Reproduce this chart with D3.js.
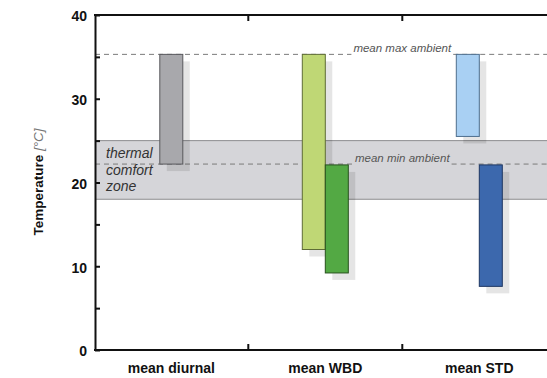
<!DOCTYPE html>
<html>
<head>
<meta charset="utf-8">
<script src="https://cdn.jsdelivr.net/npm/d3@7"></script>
<style>
  html, body { margin: 0; padding: 0; background: #fff; }
  svg { display: block; font-family: "Liberation Sans", Arial, Helvetica, sans-serif; }
</style>
</head>
<body>
<svg id="chart" width="547" height="378"></svg>
<script>
// ---- data ----
const categories = ["mean diurnal", "mean WBD", "mean STD"];
const seriesNames = ["first", "second"];
// first bar of each category (range low..high, °C)
const firstHigh = [35.3, 35.3, 35.3];
const firstLow  = [22.2, 12.0, 25.5];
// second bar of each category (null = no bar)
const secondHigh = [null, 22.1, 22.1];
const secondLow  = [null, 9.2, 7.6];
const firstFill    = ["#a8a8ac", "#bfd775", "#a9d0f3"];
const firstStroke  = ["#58585c", "#5e6c36", "#4e6f8e"];
const secondFill   = [null, "#53a944", "#3c68ad"];
const secondStroke = [null, "#27521d", "#1d3662"];
const yTicks = [0, 5, 10, 15, 20, 25, 30, 35, 40];
const yTickLabels = ["0", "", "10", "", "20", "", "30", "", "40"];
const comfortZone = [18, 25];
const comfortLabel = ["thermal", "comfort", "zone"];
const refValues = [35.3, 22.2];
const refLabels = ["mean max ambient", "mean min ambient"];

(function () {
// ---- layout ----
const W = 547, H = 378;
const mLeft = 95, mTop = 15, mBottom = 350, mRight = W;
const svg = d3.select("#chart");

const y = d3.scaleLinear().domain([0, 40]).range([mBottom, mTop]);
const x = d3.scaleBand().domain(categories).range([94.3, 94.3 + 154 * 3]).padding(0);
const barW = 23;

// comfort zone
svg.append("rect")
  .attr("x", mLeft).attr("y", y(comfortZone[1]))
  .attr("width", mRight - mLeft).attr("height", y(comfortZone[0]) - y(comfortZone[1]))
  .attr("fill", "#d5d5d9");
comfortZone.forEach(v => {
  svg.append("line").attr("x1", mLeft).attr("x2", mRight)
    .attr("y1", y(v)).attr("y2", y(v))
    .attr("stroke", "#8c8c8e").attr("stroke-width", 1);
});

// reference dashed lines with labels
const refX = x(categories[2]); // labels centered on the WBD/STD separator
const refG = svg.append("g");
refValues.forEach((v, i) => {
  const t = svg.append("text")
    .attr("x", refX).attr("y", y(v) - 2.5)
    .attr("text-anchor", "middle")
    .attr("font-size", 11.5).attr("font-style", "italic")
    .attr("fill", "#555")
    .text(refLabels[i]);
  const len = t.node().getComputedTextLength();
  const g0 = refX - len / 2 - 2, g1 = refX + len / 2 + 2;
  [[mLeft, g0], [g1, mRight]].forEach(([a, b]) => {
    refG.append("line").attr("x1", a).attr("x2", b)
      .attr("y1", y(v)).attr("y2", y(v))
      .attr("stroke", "#7a7a7a").attr("stroke-width", 1)
      .attr("stroke-dasharray", "5,4");
  });
});

// bars data
const bars = [];
categories.forEach((c, i) => {
  const hasSecond = secondHigh[i] !== null;
  const n = hasSecond ? 2 : 1;
  const cx = x(c) + x.bandwidth() / 2;
  const inner = d3.scaleBand().domain(seriesNames.slice(0, n))
    .range([cx - n * barW / 2, cx + n * barW / 2]);
  bars.push({ x: inner("first"), hi: firstHigh[i], lo: firstLow[i], fill: firstFill[i], stroke: firstStroke[i] });
  if (hasSecond) bars.push({ x: inner("second"), hi: secondHigh[i], lo: secondLow[i], fill: secondFill[i], stroke: secondStroke[i] });
});

// shadows
svg.append("g").selectAll("rect").data(bars).join("rect")
  .attr("x", d => d.x + 7).attr("y", d => y(d.hi) + 7)
  .attr("width", barW).attr("height", d => y(d.lo) - y(d.hi))
  .attr("fill", "#000").attr("fill-opacity", 0.1);

// bars
svg.append("g").selectAll("rect").data(bars).join("rect")
  .attr("x", d => d.x).attr("y", d => y(d.hi))
  .attr("width", barW).attr("height", d => y(d.lo) - y(d.hi))
  .attr("fill", d => d.fill).attr("stroke", d => d.stroke).attr("stroke-width", 1);

// comfort zone label
svg.append("text")
  .attr("x", 106).attr("y", 158)
  .attr("font-size", 14).attr("font-style", "italic").attr("fill", "#333")
  .selectAll("tspan").data(comfortLabel).join("tspan")
  .attr("x", 106).attr("dy", (d, i) => i === 0 ? 0 : 16.7)
  .text(d => d);

// y axis
const yAxis = svg.append("g").attr("transform", `translate(${mLeft},0)`)
  .call(d3.axisLeft(y).tickValues(yTicks)
    .tickFormat((d, i) => yTickLabels[i])
    .tickSizeInner(-5).tickSizeOuter(0).tickPadding(8));
yAxis.select(".domain").attr("stroke", "#111").attr("stroke-width", 2);
yAxis.selectAll(".tick line").attr("stroke", "#111").attr("stroke-width", 2);
yAxis.selectAll(".tick text")
  .attr("font-family", "'Liberation Sans', Arial, sans-serif")
  .attr("font-size", 14).attr("font-weight", "bold").attr("fill", "#111")
  .attr("dy", "0.42em");

// top & bottom frame lines
[mTop, mBottom].forEach(yy => {
  svg.append("line").attr("x1", mLeft - 1).attr("x2", mRight)
    .attr("y1", yy).attr("y2", yy)
    .attr("stroke", "#111").attr("stroke-width", 2);
});

// category separators
categories.slice(1).forEach(c => {
  const xx = x(c);
  svg.append("line").attr("x1", xx).attr("x2", xx).attr("y1", mBottom).attr("y2", mBottom - 6)
    .attr("stroke", "#111").attr("stroke-width", 2);
  svg.append("line").attr("x1", xx).attr("x2", xx).attr("y1", mTop).attr("y2", mTop + 6)
    .attr("stroke", "#111").attr("stroke-width", 2);
});

// x axis labels
const xAxis = svg.append("g").attr("transform", `translate(0,${mBottom})`)
  .call(d3.axisBottom(x).tickSize(0).tickPadding(13));
xAxis.select(".domain").remove();
xAxis.selectAll(".tick text")
  .attr("font-family", "'Liberation Sans', Arial, sans-serif")
  .attr("font-size", 14).attr("font-weight", "bold").attr("fill", "#111");

// y axis title
const yt = svg.append("text")
  .attr("transform", `translate(43,182) rotate(-90)`)
  .attr("text-anchor", "middle");
yt.append("tspan").attr("font-size", 13.5).attr("font-weight", "bold").attr("fill", "#111").text("Temperature");
yt.append("tspan").attr("font-size", 13.5).attr("font-style", "italic").attr("fill", "#777").text(" [°C]");
})();
</script>
</body>
</html>
